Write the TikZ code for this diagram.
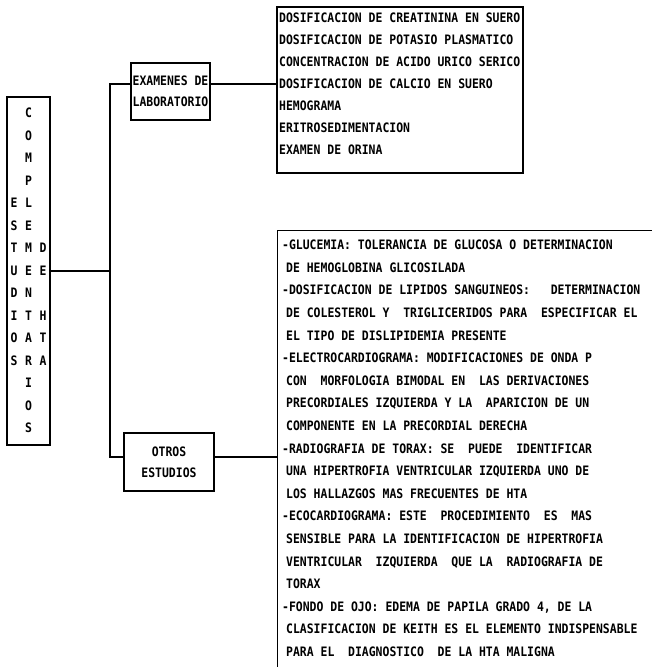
\documentclass[tikz,border=0pt]{standalone}
\usepackage{fontspec}
\newfontfamily\tw[FakeStretch=0.88]{DejaVu Sans Mono}
\newcommand{\twfont}{\tw\bfseries\fontsize{13}{21}\selectfont}
\begin{document}
\begin{tikzpicture}[x=1pt,y=-1pt,
  box/.style={draw, line width=1.1pt, inner sep=0pt},
  conn/.style={line width=1.1pt},
  txt/.style={font=\twfont, anchor=base west, inner sep=0pt},
  lt/.style={font=\twfont, anchor=base, inner sep=0pt}]
\useasboundingbox (0,0) rectangle (652,667);
\clip (0,0) rectangle (652,667);
\fill[white] (0,0) rectangle (652,667);
% frames
\node[box, minimum width=43pt, minimum height=348pt] (est) at (28.5,271) {};
\node[box, minimum width=79pt, minimum height=57pt, align=center, font=\twfont] (lab) at (170.5,91.5) {EXAMENES DE\\LABORATORIO};
\node[box, minimum width=246pt, minimum height=166pt] (labs) at (400,90) {};
\node[box, minimum width=90pt, minimum height=58pt, align=center, font=\twfont] (otros) at (169,462) {OTROS\\ESTUDIOS};
\node[box, minimum width=420pt, minimum height=480pt, anchor=north west] (otr) at (277,230) {};
% connectors
\coordinate (j1) at (110,84);
\coordinate (j2) at (110,457);
\draw[conn] (est.east) -- (est.east -| j1);
\draw[conn] (j1 -| lab.west) -- (j1) -- (j2) -- (j2 -| otros.west);
\draw[conn] (lab.east |- j1) -- (labs.west |- j1);
\draw[conn] (otros.east |- j2) -- (otr.west |- j2);
% vertical title
\foreach \a/\b/\c [count=\i from 0] in {/C/,/O/,/M/,/P/,E/L/,S/E/,T/M/D,U/E/E,D/N/,I/T/H,O/A/T,S/R/A,/I/,/O/,/S/}{
  \node[lt] (ra\i) at (14,{117.75+22.5*\i}) {\a};
  \node[lt] (rb\i) at (28.5,{117.75+22.5*\i}) {\b};
  \node[lt] (rc\i) at (43,{117.75+22.5*\i}) {\c};
}
% laboratory list
\foreach \t [count=\i from 0] in {DOSIFICACION DE CREATININA EN SUERO,DOSIFICACION DE POTASIO PLASMATICO,CONCENTRACION DE ACIDO URICO SERICO,DOSIFICACION DE CALCIO EN SUERO,HEMOGRAMA,ERITROSEDIMENTACION,EXAMEN DE ORINA}{
  \node[txt] (t\i) at (279,{22.75+22*\i}) {\t};
}
% other studies list
\foreach \ind/\t [count=\i from 0] in {
 0/{-GLUCEMIA: TOLERANCIA DE GLUCOSA O DETERMINACION},
 1/{DE HEMOGLOBINA GLICOSILADA},
 0/{-DOSIFICACION DE LIPIDOS SANGUINEOS:\ \ \ DETERMINACION},
 1/{DE COLESTEROL Y\ \ TRIGLICERIDOS PARA\ \ ESPECIFICAR EL},
 1/{EL TIPO DE DISLIPIDEMIA PRESENTE},
 0/{-ELECTROCARDIOGRAMA: MODIFICACIONES DE ONDA P},
 1/{CON\ \ MORFOLOGIA BIMODAL EN\ \ LAS DERIVACIONES},
 1/{PRECORDIALES IZQUIERDA Y LA\ \ APARICION DE UN},
 1/{COMPONENTE EN LA PRECORDIAL DERECHA},
 0/{-RADIOGRAFIA DE TORAX: SE\ \ PUEDE\ \ IDENTIFICAR},
 1/{UNA HIPERTROFIA VENTRICULAR IZQUIERDA UNO DE},
 1/{LOS HALLAZGOS MAS FRECUENTES DE HTA},
 0/{-ECOCARDIOGRAMA: ESTE\ \ PROCEDIMIENTO\ \ ES\ \ MAS},
 1/{SENSIBLE PARA LA IDENTIFICACION DE HIPERTROFIA},
 1/{VENTRICULAR\ \ IZQUIERDA\ \ QUE LA\ \ RADIOGRAFIA DE},
 1/{TORAX},
 0/{-FONDO DE OJO: EDEMA DE PAPILA GRADO 4, DE LA},
 1/{CLASIFICACION DE KEITH ES EL ELEMENTO INDISPENSABLE},
 1/{PARA EL\ \ DIAGNOSTICO\ \ DE LA HTA MALIGNA}}{
  \node[txt] (s\i) at ({282+4*\ind},{249.75+22.6*\i}) {\t};
}
\end{tikzpicture}
\end{document}
